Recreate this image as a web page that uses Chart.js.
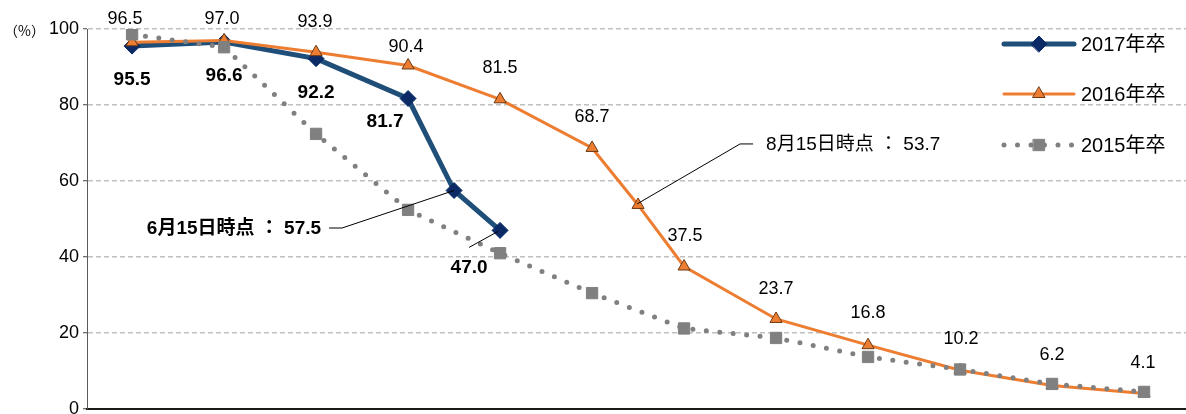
<!DOCTYPE html>
<html lang="ja">
<head>
<meta charset="utf-8">
<script src="https://cdn.jsdelivr.net/npm/chart.js@4.4.0/dist/chart.umd.min.js"></script>
<style>
  html, body { margin: 0; padding: 0; background: #fff; }
</style>
</head>
<body>
<canvas id="chart" width="1186" height="414"></canvas>
<script>
// x = month slot counted from the first survey date, .5 = the 15th of that month
const x2017 = [0, 1, 2, 3, 3.5, 4];
const rate2017 = [95.5, 96.6, 92.2, 81.7, 57.5, 47.0];

const x2016 = [0, 1, 2, 3, 4, 5, 5.5, 6, 7, 8, 9, 10, 11];
const rate2016 = [96.5, 97.0, 93.9, 90.4, 81.5, 68.7, 53.7, 37.5, 23.7, 16.8, 10.2, 6.2, 4.1];

const x2015 = [0, 1, 2, 3, 4, 5, 6, 7, 8, 9, 10, 11];
const rate2015 = [98.6, 95.2, 72.4, 52.4, 41.0, 30.5, 21.2, 18.7, 13.7, 10.4, 6.6, 4.5];

const seriesNames = ['2017年卒', '2016年卒', '2015年卒'];
const yTicks = [0, 20, 40, 60, 80, 100];

// mid-month call-outs: [series, point index, date text]
const callouts = [[0, 4, '6月15日時点'], [1, 6, '8月15日時点']];

const FONT = "'Liberation Sans', 'Noto Sans CJK JP', sans-serif";

const toPoints = (xs, ys) => xs.map((x, i) => ({ x: x, y: ys[i] }));

// value labels: offset from the point, null = no label
const labelStyle = [
  { font: 'bold 19px ' + FONT,
    offsets: [[0, 34], [0, 34], [0, 34], [-23, 23], null, [-31, 37]] },
  { font: '18px ' + FONT,
    offsets: [[-7, -23], [-2, -21], [-1, -30], [-2, -18], [0, -31], [0, -31], null,
              [1, -30], [0, -30], [0, -32], [1, -31], [0, -30], [-1, -30]] },
  null
];

const extras = {
  id: 'extras',
  afterDatasetsDraw(chart) {
    const ctx = chart.ctx;
    ctx.save();
    ctx.fillStyle = '#000';
    ctx.textAlign = 'center';
    ctx.textBaseline = 'middle';

    // value labels
    labelStyle.forEach((st, di) => {
      if (!st) return;
      const meta = chart.getDatasetMeta(di);
      const vals = chart.data.datasets[di].data;
      ctx.font = st.font;
      meta.data.forEach((pt, i) => {
        const off = st.offsets[i];
        if (!off) return;
        ctx.fillText(vals[i].y.toFixed(1), pt.x + off[0], pt.y + off[1]);
      });
    });

    // short leader from the last 2017 label
    const m17 = chart.getDatasetMeta(0).data;
    const last = m17[m17.length - 1];
    ctx.strokeStyle = '#000';
    ctx.lineWidth = 1;
    ctx.beginPath();
    ctx.moveTo(last.x - 31, last.y + 17);
    ctx.lineTo(last.x - 2, last.y + 1);
    ctx.stroke();

    // call-outs
    callouts.forEach(([di, idx, date]) => {
      const pt = chart.getDatasetMeta(di).data[idx];
      const v = chart.data.datasets[di].data[idx].y.toFixed(1);
      const text = date + ' ： ' + v;
      ctx.beginPath();
      if (di === 0) {
        ctx.font = 'bold 19px ' + FONT;
        ctx.textAlign = 'right';
        ctx.fillText(text, pt.x - 133, pt.y + 38);
        ctx.moveTo(pt.x - 125, pt.y + 37.5);
        ctx.lineTo(pt.x - 112, pt.y + 37.5);
        ctx.lineTo(pt.x, pt.y);
      } else {
        ctx.font = '19px ' + FONT;
        ctx.textAlign = 'left';
        ctx.fillText(text, pt.x + 128, pt.y - 60);
        ctx.moveTo(pt.x + 115, pt.y - 61);
        ctx.lineTo(pt.x + 102, pt.y - 61);
        ctx.lineTo(pt.x - 1, pt.y - 1);
      }
      ctx.stroke();
    });

    // unit
    ctx.font = "14px 'Noto Sans CJK JP', sans-serif";
    ctx.textAlign = 'left';
    ctx.fillText('（%）', 4, 31);

    // legend
    const rows = [44, 94, 145];
    chart.data.datasets.forEach((ds, di) => {
      const y = rows[di];
      ctx.save();
      ctx.strokeStyle = ds.borderColor;
      ctx.lineWidth = ds.borderWidth;
      ctx.lineCap = 'round';
      ctx.setLineDash(ds.borderDash || []);
      ctx.beginPath();
      ctx.moveTo(1004, y);
      ctx.lineTo(1074, y);
      ctx.stroke();
      ctx.setLineDash([]);
      ctx.fillStyle = ds.pointBackgroundColor;
      ctx.strokeStyle = ds.pointBorderColor;
      ctx.lineWidth = ds.pointBorderWidth;
      Chart.helpers.drawPoint(ctx, {
        pointStyle: ds.pointStyle, radius: ds.pointRadius,
        rotation: 0, borderWidth: ds.pointBorderWidth
      }, 1039, y);
      ctx.restore();
      ctx.font = '20px ' + FONT;
      ctx.textAlign = 'left';
      ctx.fillStyle = '#000';
      ctx.fillText(ds.label, 1081, y + 1);
    });
    ctx.restore();
  }
};

new Chart(document.getElementById('chart'), {
  type: 'line',
  data: {
    datasets: [
      {
        label: seriesNames[0],
        data: toPoints(x2017, rate2017),
        borderColor: '#1F4E79',
        borderWidth: 5,
        pointStyle: 'rectRot',
        pointRadius: 8,
        pointBackgroundColor: '#0b2a66',
        pointBorderColor: '#0b2a66',
        pointBorderWidth: 1,
        order: 3
      },
      {
        label: seriesNames[1],
        data: toPoints(x2016, rate2016),
        borderColor: '#ED7D31',
        borderWidth: 3,
        pointStyle: 'triangle',
        pointRadius: 7,
        pointBackgroundColor: '#ED7D31',
        pointBorderColor: '#6b3a15',
        pointBorderWidth: 1,
        order: 2
      },
      {
        label: seriesNames[2],
        data: toPoints(x2015, rate2015),
        borderColor: '#808080',
        borderWidth: 5,
        borderDash: [0, 13.5],
        borderCapStyle: 'round',
        pointStyle: 'rect',
        pointRadius: 8,
        pointBackgroundColor: '#808080',
        pointBorderColor: '#808080',
        pointBorderWidth: 1,
        order: 1
      }
    ]
  },
  options: {
    responsive: false,
    animation: false,
    layout: { autoPadding: false, padding: { top: 29, right: 0, bottom: 5, left: 0 } },
    plugins: {
      legend: { display: false },
      tooltip: { enabled: false }
    },
    scales: {
      x: {
        type: 'linear',
        min: -0.49,
        max: 11.456,
        afterFit(s) { s.height = 0; s.paddingLeft = 0; s.paddingRight = 0; },
        ticks: { display: false },
        grid: { display: false, drawTicks: false },
        border: { display: true, color: '#1a1a1a', width: 2 }
      },
      y: {
        min: yTicks[0],
        max: yTicks[yTicks.length - 1],
        afterFit(s) { s.width = 87; s.paddingTop = 0; s.paddingBottom = 0; },
        ticks: {
          stepSize: yTicks[1] - yTicks[0],
          color: '#000',
          font: { family: FONT, size: 18 },
          padding: 4
        },
        grid: {
          color: c => (c.tick && c.tick.value === 0) ? 'rgba(0,0,0,0)' : '#c0c0c0',
          lineWidth: 1.5,
          tickLength: 4,
          tickWidth: 1,
          tickColor: '#404040'
        },
        border: { display: true, color: '#595959', width: 1, dash: [5, 3] }
      }
    }
  },
  plugins: [extras]
});
</script>
</body>
</html>
